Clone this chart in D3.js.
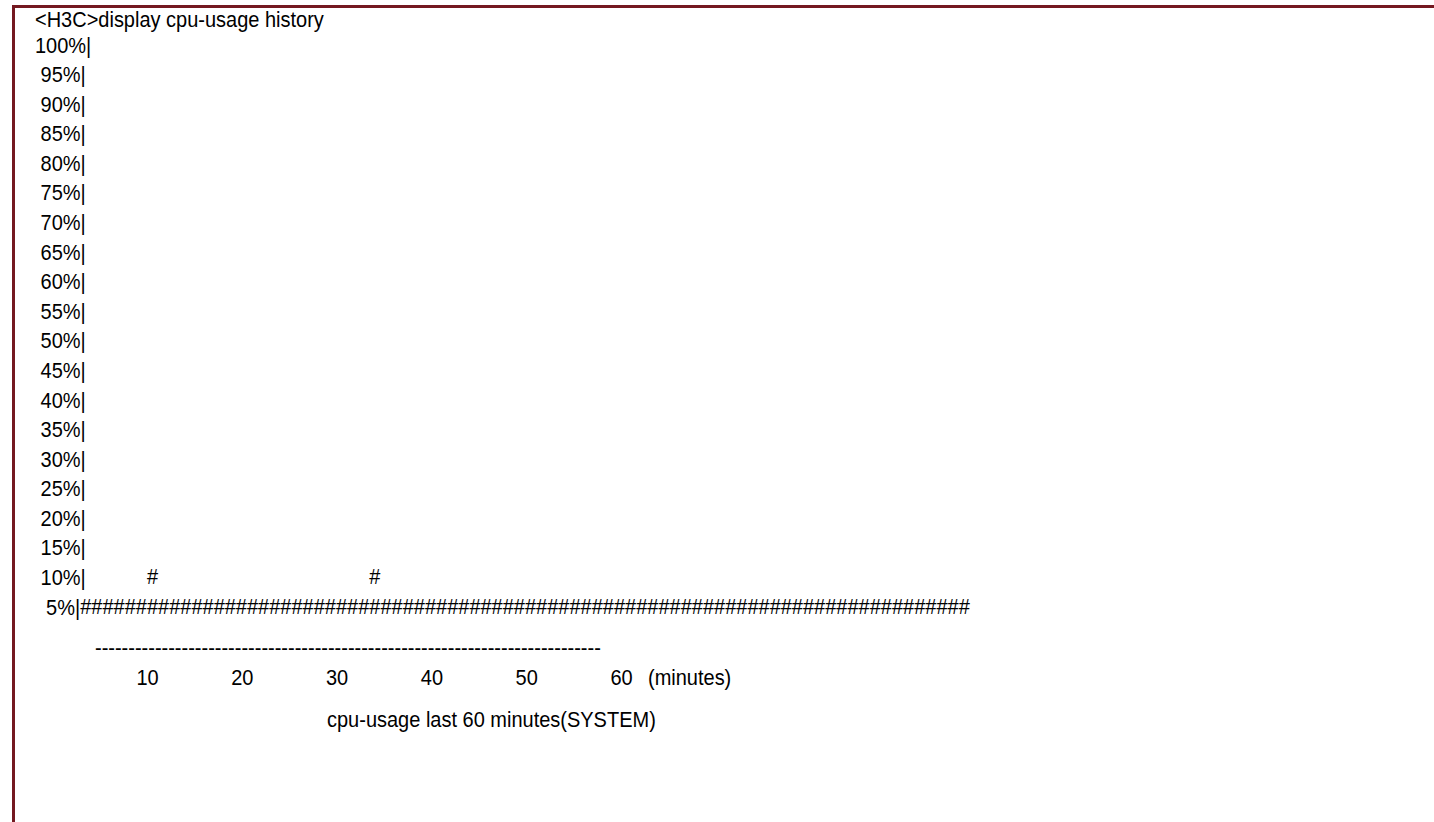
<!DOCTYPE html>
<html>
<head>
<meta charset="utf-8">
<script src="https://cdn.jsdelivr.net/npm/d3@7"></script>
<style>
  body { margin: 0; background: #fff; }
  svg text { font-family: "Liberation Sans", Arial, sans-serif; font-size: 20px; fill: #000; white-space: pre; }
</style>
</head>
<body>
<svg id="chart"></svg>
<script>
const chartSize = {width: 1434, height: 822};

// cli output pieces
const titleText = "<H3C>display cpu-usage history";
const captionText = "cpu-usage last 60 minutes(SYSTEM)";
const unitText = "(minutes)";
const yLevels = [100, 95, 90, 85, 80, 75, 70, 65, 60, 55, 50, 45, 40, 35, 30, 25, 20, 15, 10, 5];
const xTicks = [10, 20, 30, 40, 50, 60];
// usage (%) per printed column, left to right
const columnUsage = [
  5, 5, 5, 5, 5, 5, 10, 5, 5, 5,
  5, 5, 5, 5, 5, 5, 5, 5, 5, 5,
  5, 5, 5, 5, 5, 5, 10, 5, 5, 5,
  5, 5, 5, 5, 5, 5, 5, 5, 5, 5,
  5, 5, 5, 5, 5, 5, 5, 5, 5, 5,
  5, 5, 5, 5, 5, 5, 5, 5, 5, 5,
  5, 5, 5, 5, 5, 5, 5, 5, 5, 5,
  5, 5, 5, 5, 5, 5, 5, 5, 5, 5
];
const dashCount = 76;

const left = 35;
const colW = 11.12;
const sy = 1.12; // text in the screenshot is a bit taller than wide

const svg = d3.select("#chart")
  .attr("width", chartSize.width)
  .attr("height", chartSize.height);

// frame
svg.append("path")
  .attr("d", `M13.5,${chartSize.height} V6.5 H${chartSize.width}`)
  .attr("fill", "none")
  .attr("stroke", "#741820")
  .attr("stroke-width", 3);

// everything below is laid out in screen px, the group squeezes y back
const g = svg.append("g")
  .attr("transform", `scale(1,${sy})`);
const py = v => v / sy;

g.append("text")
  .attr("x", left)
  .attr("y", py(27))
  .text(titleText);

const y = d3.scaleLinear()
  .domain([5, 100])
  .range([py(614), py(52)]);

const yAxis = d3.axisLeft(y)
  .tickValues(yLevels)
  .tickSize(0)
  .tickFormat(d => String(d).padStart(3, " ") + "%|");

const gy = g.append("g")
  .attr("class", "y-axis")
  .call(yAxis);
gy.select(".domain").remove();
gy.selectAll("text")
  .attr("x", left)
  .attr("dy", 0)
  .attr("text-anchor", "start")
  .attr("font-family", null)
  .attr("font-size", null);

// hash columns start right after the "5%|" label
const x0 = left + gy.selectAll("text").filter(d => d === 5).node().getComputedTextLength();

const xCol = d3.scaleLinear()
  .domain([0, columnUsage.length])
  .range([x0, x0 + columnUsage.length * colW]);

const cells = columnUsage.flatMap((v, i) =>
  yLevels.filter(l => l <= v).map(l => ({col: i, level: l})));

g.append("g")
  .selectAll("text")
  .data(cells)
  .join("text")
  .attr("x", d => xCol(d.col))
  .attr("y", d => y(d.level))
  .text("#");

// dashed rule under the bars
g.append("text")
  .attr("x", 95)
  .attr("y", py(655))
  .text("-".repeat(dashCount));

const x = d3.scaleLinear()
  .domain([10, 60])
  .range([147, 621]);

const xAxis = d3.axisBottom(x)
  .tickValues(xTicks)
  .tickSize(0);

const gx = g.append("g")
  .attr("class", "x-axis")
  .attr("transform", `translate(0,${py(685)})`)
  .call(xAxis);
gx.select(".domain").remove();
gx.selectAll("text")
  .attr("y", 0)
  .attr("dy", 0)
  .attr("font-family", null)
  .attr("font-size", null);

g.append("text")
  .attr("x", x(60) + 27)
  .attr("y", py(685))
  .text(unitText);

g.append("text")
  .attr("x", 327)
  .attr("y", py(727))
  .text(captionText);
</script>
</body>
</html>
